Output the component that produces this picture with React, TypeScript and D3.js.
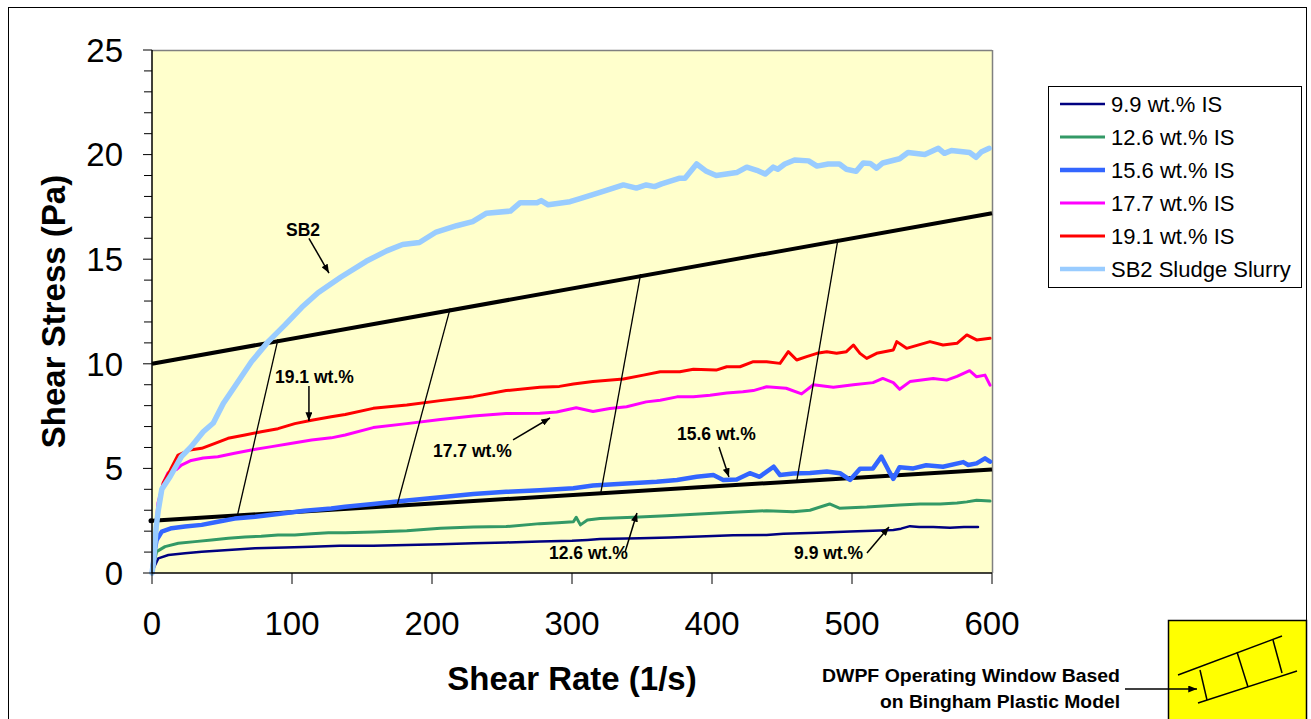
import React from "react";
import * as d3 from "d3";

type P = [number, number];

const X_TICKS = [0, 100, 200, 300, 400, 500, 600];
const Y_TICKS = [0, 5, 10, 15, 20, 25];
const Y_MINOR = d3.range(0, 26, 1);

const LEGEND_LABELS = [
  "9.9 wt.% IS",
  "12.6 wt.% IS",
  "15.6 wt.% IS",
  "17.7 wt.% IS",
  "19.1 wt.% IS",
  "SB2 Sludge Slurry",
];

const S99: P[] = [[0,0],[2,0.35],[4.5,0.7],[11.7,0.86],[23.6,0.94],[35.5,1.02],[54.5,1.1],[73.6,1.18],[95,1.22],[114,1.26],[134,1.3],[158,1.3],[182,1.34],[206,1.38],[229.5,1.42],[253,1.46],[277,1.5],[300,1.54],[311,1.58],[320,1.62],[348.6,1.66],[370,1.7],[391,1.74],[415,1.8],[439,1.82],[451,1.88],[475,1.92],[498.6,1.98],[515,2.02],[529.5,2.06],[535,2.12],[541.4,2.24],[548,2.2],[558,2.2],[570,2.16],[580,2.2],[590,2.2]];

const S126: P[] = [[0,0],[1.5,0.5],[3.3,1.02],[9.3,1.26],[18.8,1.42],[30.7,1.5],[42.6,1.58],[54.5,1.66],[66.4,1.72],[78,1.76],[90,1.82],[102,1.82],[114,1.88],[126,1.92],[138,1.92],[158,1.96],[182,2.02],[206,2.14],[229.5,2.2],[253,2.22],[277,2.36],[290,2.4],[301,2.45],[303,2.66],[306,2.3],[311,2.53],[320,2.6],[344,2.66],[367.6,2.74],[391,2.82],[415,2.9],[439,2.98],[458,2.93],[470,3.0],[484,3.3],[491,3.1],[510.5,3.15],[534,3.25],[548.6,3.3],[563,3.3],[575,3.35],[582,3.4],[589,3.48],[598.6,3.44]];

const S156: P[] = [[0,0],[1.5,0.9],[3.3,1.58],[7,1.98],[14,2.14],[23.6,2.22],[35.5,2.3],[47,2.45],[59,2.6],[73.6,2.69],[90,2.82],[109,2.98],[128,3.08],[138,3.17],[158,3.3],[182,3.47],[206,3.62],[229.5,3.78],[253,3.88],[277,3.96],[301,4.05],[315,4.18],[339,4.28],[360.5,4.36],[375,4.45],[389,4.6],[401,4.68],[408,4.45],[417.6,4.47],[427,4.77],[434,4.6],[444,5.08],[448.6,4.68],[458,4.76],[470,4.78],[482,4.85],[491.4,4.77],[498.6,4.45],[505.7,4.98],[515,5.0],[521,5.56],[526,4.92],[529.5,4.5],[534,5.06],[543.8,5.0],[553,5.15],[565,5.08],[579.5,5.3],[583,5.16],[589,5.24],[595,5.48],[598.6,5.32]];

const S177: P[] = [[0,0],[1.5,1.2],[4.3,3.35],[8,4.3],[11.4,4.78],[17.6,4.95],[21,5.16],[28,5.38],[36.6,5.5],[47,5.56],[59,5.72],[71,5.88],[85.5,6.04],[100,6.2],[114,6.36],[128,6.46],[138,6.6],[158,6.95],[182,7.14],[206,7.34],[229.5,7.5],[253,7.62],[277,7.64],[289,7.7],[303,7.9],[315,7.72],[327,7.86],[339,7.95],[353,8.18],[363,8.26],[375,8.42],[386.7,8.43],[398.6,8.5],[410.5,8.6],[422,8.66],[429.5,8.72],[439,8.9],[453,8.83],[464,8.56],[472.4,9.0],[486.7,8.88],[501,9.0],[515,9.1],[522,9.3],[529.5,9.1],[534,8.78],[541.4,9.15],[558,9.3],[567.6,9.22],[575,9.4],[584,9.67],[589,9.38],[595,9.46],[598.6,8.98]];

const S191: P[] = [[0,0],[1.5,1.0],[4.3,3.0],[8,4.3],[12.9,4.9],[18.6,5.64],[27,5.88],[35.5,5.96],[45,6.2],[54.3,6.44],[66.4,6.6],[78,6.75],[90,6.9],[102,7.14],[114,7.3],[128,7.47],[138,7.58],[158,7.87],[182,8.03],[206,8.24],[229.5,8.43],[253,8.72],[277,8.88],[291,8.92],[301,9.03],[315,9.15],[336.7,9.27],[351,9.46],[363,9.62],[377,9.62],[386.7,9.74],[403,9.7],[410.5,9.86],[420,9.86],[429.5,10.1],[439,10.1],[448.6,10.02],[454.5,10.58],[460.5,10.18],[467.6,10.34],[475,10.5],[482,10.58],[489,10.5],[496,10.58],[501,10.9],[505.7,10.5],[510.5,10.26],[517.6,10.5],[529.5,10.66],[532,11.06],[539,10.74],[555.7,11.06],[565,10.9],[575,10.98],[582,11.38],[589,11.14],[598.6,11.22]];

const SSB2: P[] = [[0,0],[1,0.46],[3,2.2],[4.5,3.0],[7,4.0],[12.9,4.6],[21,5.56],[28,6.04],[36.6,6.75],[43.8,7.17],[50.9,8.1],[59,8.9],[71,10.1],[83,11.06],[95,11.86],[107,12.7],[118.6,13.4],[135,14.15],[153,14.9],[167.6,15.4],[179,15.7],[191,15.8],[203,16.3],[217.6,16.6],[229,16.8],[239,17.2],[256,17.3],[263,17.7],[275,17.7],[278,17.8],[283,17.6],[298.6,17.75],[305.7,17.9],[320,18.2],[336.7,18.55],[346,18.4],[353,18.55],[359,18.47],[364,18.6],[377,18.87],[380.7,18.87],[389,19.55],[396,19.2],[403,19.0],[417.6,19.14],[424.8,19.4],[432,19.25],[438,19.07],[443.8,19.4],[447,19.3],[452,19.55],[459,19.74],[469,19.7],[475,19.45],[483,19.55],[491,19.55],[496,19.3],[503,19.2],[508,19.6],[513,19.58],[517.6,19.35],[522,19.6],[534,19.8],[540,20.1],[552,20.0],[561.7,20.3],[566,20.06],[571,20.2],[584,20.1],[588.6,19.87],[592.6,20.14],[598,20.3]];

// Bingham plastic operating window
const UPPER_LINE: P[] = [[0, 10], [600, 17.2]];
const LOWER_LINE: P[] = [[0, 2.5], [600, 4.95]];
// connectors: [x on lower line, x on upper line]
const CONNECTORS: P[] = [[61, 90], [175, 213], [320.5, 349], [460.5, 490]];

// annotations: text, text anchor (data), arrow from, arrow to (data)
const ANNOTATIONS: { text: string; t: P; a: P; b: P }[] = [
  { text: "SB2", t: [95.7, 16.1], a: [112.1, 16.0], b: [126.4, 14.34] },
  { text: "19.1 wt.%", t: [87.9, 9.08], a: [112.1, 8.94], b: [112.1, 7.27] },
  { text: "17.7 wt.%", t: [200.7, 5.54], a: [257.9, 6.36], b: [284.3, 7.41] },
  { text: "15.6 wt.%", t: [375, 6.36], a: [405, 6.02], b: [412.1, 4.59] },
  { text: "12.6 wt.%", t: [283.6, 0.67], a: [337.9, 1.0], b: [346.4, 2.87] },
  { text: "9.9 wt.%", t: [458.6, 0.67], a: [510.7, 0.96], b: [526.4, 2.2] },
];

const SERIES = [
  { data: S99, color: "#000080", width: 2.5 },
  { data: S126, color: "#339966", width: 3 },
  { data: S156, color: "#3366FF", width: 4.5 },
  { data: S177, color: "#FF00FF", width: 3 },
  { data: S191, color: "#FF0000", width: 3 },
  { data: SSB2, color: "#99CCFF", width: 5.5 },
];

const FONT = "'Liberation Sans', Arial, Helvetica, sans-serif";

export default function App() {
  const L = 152, R = 992, T = 50, B = 573;
  const x = d3.scaleLinear().domain([0, 600]).range([L, R]);
  const y = d3.scaleLinear().domain([0, 25]).range([B, T]);
  const line = d3.line<P>().x((d) => x(d[0])).y((d) => y(d[1]));
  const upperAt = (v: number) => d3.scaleLinear().domain([0, 600]).range([UPPER_LINE[0][1], UPPER_LINE[1][1]])(v);
  const lowerAt = (v: number) => d3.scaleLinear().domain([0, 600]).range([LOWER_LINE[0][1], LOWER_LINE[1][1]])(v);

  const legX = 1048, legY = 86, legW = 253, legH = 201;
  const rowH = 33;

  return (
    <svg width={1311} height={719} style={{ position: "absolute", left: 0, top: 0, background: "#fff" }} fontFamily={FONT}>
      <defs>
        <marker id="ah" viewBox="0 0 10 8" refX="10" refY="4" markerWidth="9" markerHeight="7" markerUnits="userSpaceOnUse" orient="auto">
          <path d="M0,0 L10,4 L0,8 Z" fill="#000" />
        </marker>
      </defs>
      {/* outer frame */}
      <rect x={8.5} y={7.5} width={1298} height={730} fill="#fff" stroke="#000" strokeWidth={1} />

      {/* plot area */}
      <rect x={L} y={T} width={R - L} height={B - T} fill="#FFFFCC" />
      <line x1={L} y1={T + 0.5} x2={R} y2={T + 0.5} stroke="#808080" strokeWidth={1.5} />
      <line x1={R + 0.5} y1={T} x2={R + 0.5} y2={B} stroke="#808080" strokeWidth={1.5} />

      {/* Bingham lines */}
      <path d={line(UPPER_LINE) || ""} stroke="#000" strokeWidth={4} fill="none" />
      <path d={line(LOWER_LINE) || ""} stroke="#000" strokeWidth={4} fill="none" />
      <circle cx={x(0) - 1} cy={y(LOWER_LINE[0][1])} r={2.5} fill="#000" />

      {/* series */}
      {SERIES.map((s, i) => (
        <path key={i} d={line(s.data) || ""} stroke={s.color} strokeWidth={s.width} fill="none" strokeLinejoin="round" strokeLinecap="round" />
      ))}

      {/* connectors */}
      {CONNECTORS.map((c, i) => (
        <line key={i} x1={x(c[0])} y1={y(lowerAt(c[0]))} x2={x(c[1])} y2={y(upperAt(c[1])) - 2} stroke="#000" strokeWidth={1.3} />
      ))}

      {/* annotations */}
      {ANNOTATIONS.map((a, i) => (
        <g key={i}>
          <text x={x(a.t[0])} y={y(a.t[1])} fontSize={17.5} fontWeight="bold" fill="#000">{a.text}</text>
          <line x1={x(a.a[0])} y1={y(a.a[1])} x2={x(a.b[0])} y2={y(a.b[1])} stroke="#000" strokeWidth={1.5} markerEnd="url(#ah)" />
        </g>
      ))}

      {/* axes */}
      <line x1={L} y1={T} x2={L} y2={B} stroke="#000" strokeWidth={1.5} />
      <line x1={L} y1={B} x2={R} y2={B} stroke="#000" strokeWidth={1.5} />
      {Y_MINOR.map((v) => (
        <line key={"ym" + v} x1={L - (v % 5 === 0 ? 9 : 8)} y1={y(v)} x2={L} y2={y(v)} stroke="#000" strokeWidth={1} />
      ))}
      {Y_TICKS.map((v) => (
        <text key={"yt" + v} x={123} y={y(v)} dy="0.36em" textAnchor="end" fontSize={33} fill="#000">{v}</text>
      ))}
      {X_TICKS.map((v) => (
        <g key={"xt" + v}>
          <line x1={x(v)} y1={B} x2={x(v)} y2={B + 11} stroke="#000" strokeWidth={1} />
          <text x={x(v)} y={635} textAnchor="middle" fontSize={33} fill="#000">{v}</text>
        </g>
      ))}
      <text x={(L + R) / 2} y={690} textAnchor="middle" fontSize={33} fontWeight="bold" fill="#000">Shear Rate (1/s)</text>
      <text transform={`translate(65, ${(T + B) / 2}) rotate(-90)`} textAnchor="middle" fontSize={33} fontWeight="bold" fill="#000">Shear Stress (Pa)</text>

      {/* legend */}
      <rect x={legX + 0.5} y={legY + 0.5} width={legW} height={legH} fill="#fff" stroke="#000" strokeWidth={1} />
      {SERIES.map((s, i) => {
        const cy = 104 + i * rowH;
        return (
          <g key={"lg" + i}>
            <line x1={1060} y1={cy} x2={1105} y2={cy} stroke={s.color} strokeWidth={Math.min(s.width, 4.5)} />
            <text x={1111} y={cy} dy="0.36em" fontSize={22} fill="#000">{LEGEND_LABELS[i]}</text>
          </g>
        );
      })}

      {/* operating-window key */}
      <rect x={1168.5} y={620.5} width={138} height={110} fill="#FFFF00" stroke="#000" strokeWidth={1.5} />
      <line x1={1178} y1={675} x2={1282} y2={636} stroke="#000" strokeWidth={1.5} />
      <line x1={1198} y1={703} x2={1297} y2={671} stroke="#000" strokeWidth={1.5} />
      <line x1={1200} y1={670} x2={1207} y2={700} stroke="#000" strokeWidth={1.5} />
      <line x1={1237} y1={652} x2={1248} y2={687} stroke="#000" strokeWidth={1.5} />
      <line x1={1273} y1={640} x2={1282} y2={673} stroke="#000" strokeWidth={1.5} />
      <text x={1120} y={682} textAnchor="end" fontSize={17.5} fontWeight="bold" textLength={298} lengthAdjust="spacingAndGlyphs" fill="#000">DWPF Operating Window Based</text>
      <text x={1120} y={708} textAnchor="end" fontSize={17.5} fontWeight="bold" textLength={240} lengthAdjust="spacingAndGlyphs" fill="#000">on Bingham Plastic Model</text>
      <line x1={1125} y1={689} x2={1197} y2={689} stroke="#000" strokeWidth={1.5} markerEnd="url(#ah)" />
    </svg>
  );
}
